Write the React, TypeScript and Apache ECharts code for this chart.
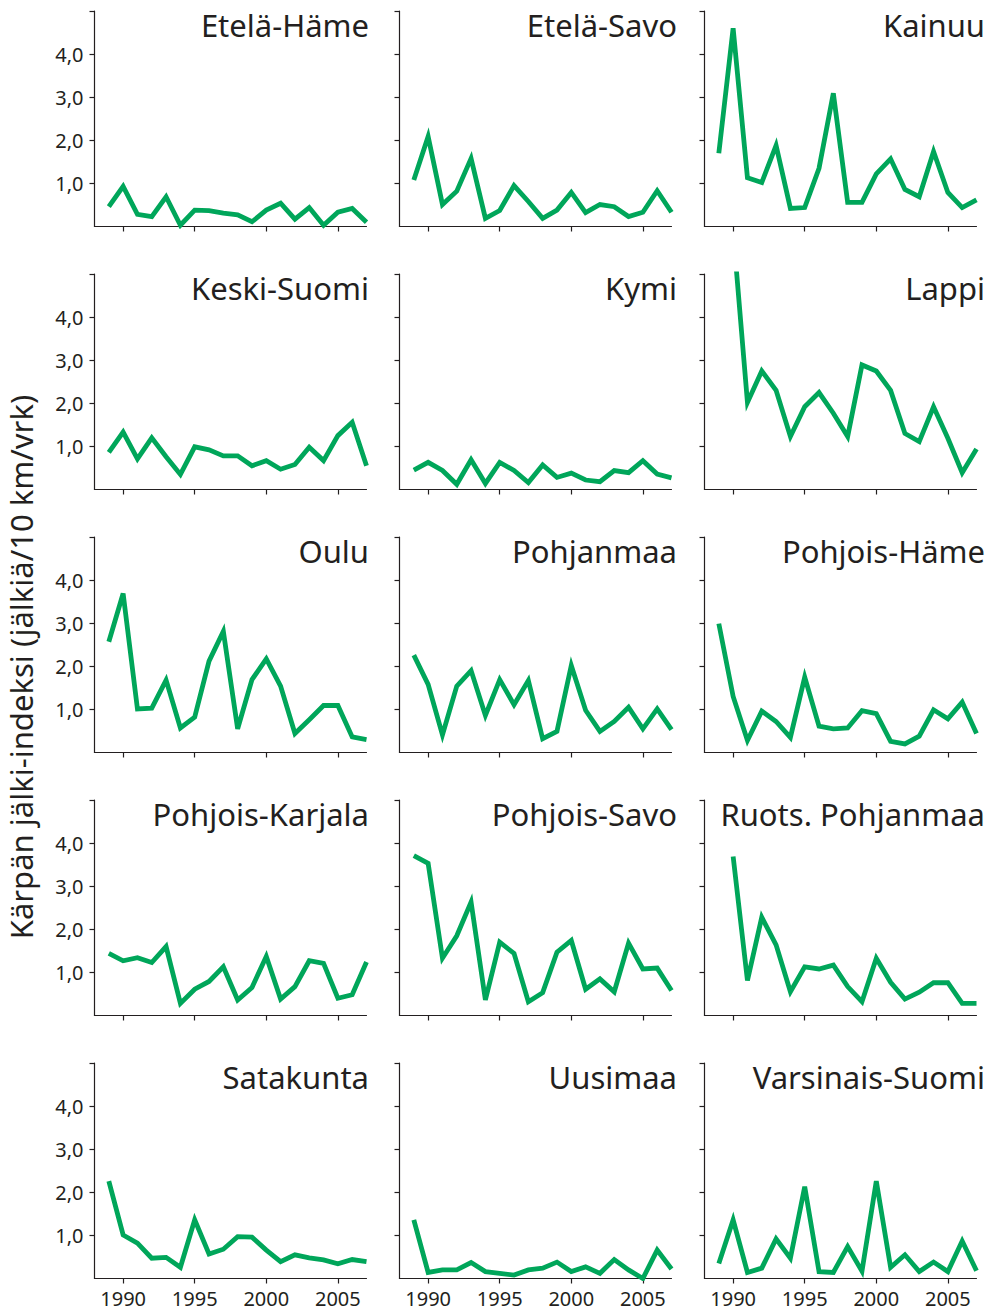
import React, { useEffect, useRef } from "react";
import * as echarts from "echarts";

// Categories (years); 1988 is an empty slot at the start of each axis
const years = [
  "1988", "1989", "1990", "1991", "1992", "1993", "1994", "1995", "1996", "1997",
  "1998", "1999", "2000", "2001", "2002", "2003", "2004", "2005", "2006", "2007",
];

// Values 1989–2007 (null = no data)
const etelaHame = [0.46, 0.93, 0.28, 0.23, 0.69, 0.03, 0.38, 0.37, 0.31, 0.27, 0.11, 0.38, 0.54, 0.17, 0.44, 0.03, 0.33, 0.42, 0.10];
const etelaSavo = [1.08, 2.09, 0.51, 0.82, 1.58, 0.19, 0.37, 0.95, 0.58, 0.19, 0.38, 0.79, 0.32, 0.51, 0.46, 0.23, 0.33, 0.83, 0.33];
const kainuu = [1.70, 4.60, 1.13, 1.02, 1.88, 0.42, 0.44, 1.35, 3.09, 0.56, 0.56, 1.22, 1.57, 0.86, 0.69, 1.74, 0.79, 0.44, 0.62];
const keskiSuomi = [0.86, 1.33, 0.71, 1.20, 0.76, 0.35, 0.99, 0.92, 0.78, 0.78, 0.55, 0.67, 0.47, 0.58, 0.98, 0.67, 1.25, 1.56, 0.55];
const kymi = [0.45, 0.63, 0.44, 0.12, 0.69, 0.14, 0.63, 0.44, 0.16, 0.57, 0.28, 0.38, 0.22, 0.18, 0.44, 0.39, 0.67, 0.36, 0.27];
const lappi = [null, 6.0, 2.02, 2.75, 2.30, 1.23, 1.92, 2.25, 1.77, 1.23, 2.89, 2.75, 2.30, 1.30, 1.11, 1.92, 1.19, 0.39, 0.94];
const oulu = [2.57, 3.69, 1.01, 1.03, 1.68, 0.57, 0.82, 2.12, 2.81, 0.55, 1.69, 2.17, 1.54, 0.44, 0.76, 1.09, 1.09, 0.36, 0.30];
const pohjanmaa = [2.26, 1.58, 0.41, 1.54, 1.90, 0.86, 1.69, 1.11, 1.67, 0.32, 0.49, 2.02, 0.98, 0.49, 0.72, 1.05, 0.55, 1.01, 0.53];
const pohjoisHame = [2.99, 1.30, 0.28, 0.96, 0.72, 0.35, 1.75, 0.61, 0.55, 0.57, 0.97, 0.90, 0.26, 0.20, 0.38, 0.99, 0.78, 1.17, 0.44];
const pohjoisKarjala = [1.44, 1.27, 1.34, 1.23, 1.60, 0.28, 0.61, 0.79, 1.13, 0.36, 0.65, 1.37, 0.38, 0.67, 1.27, 1.21, 0.40, 0.48, 1.24];
const pohjoisSavo = [3.71, 3.53, 1.33, 1.85, 2.63, 0.36, 1.70, 1.44, 0.32, 0.53, 1.47, 1.74, 0.61, 0.85, 0.55, 1.68, 1.08, 1.10, 0.58];
const ruotsPohjanmaa = [null, 3.69, 0.81, 2.28, 1.64, 0.55, 1.13, 1.08, 1.17, 0.67, 0.32, 1.33, 0.77, 0.38, 0.54, 0.76, 0.76, 0.28, 0.28];
const satakunta = [2.26, 1.01, 0.82, 0.47, 0.49, 0.26, 1.36, 0.57, 0.68, 0.97, 0.96, 0.66, 0.39, 0.55, 0.48, 0.43, 0.34, 0.44, 0.39];
const uusimaa = [1.36, 0.14, 0.20, 0.20, 0.37, 0.16, 0.12, 0.08, 0.20, 0.24, 0.38, 0.16, 0.27, 0.12, 0.44, 0.20, 0.0, 0.66, 0.22];
const varsinaisSuomi = [0.35, 1.36, 0.14, 0.24, 0.92, 0.47, 2.13, 0.16, 0.14, 0.74, 0.17, 2.26, 0.26, 0.55, 0.16, 0.38, 0.16, 0.87, 0.18];

const regionNames = [
  "Etelä-Häme", "Etelä-Savo", "Kainuu",
  "Keski-Suomi", "Kymi", "Lappi",
  "Oulu", "Pohjanmaa", "Pohjois-Häme",
  "Pohjois-Karjala", "Pohjois-Savo", "Ruots. Pohjanmaa",
  "Satakunta", "Uusimaa", "Varsinais-Suomi",
];
const regionValues = [
  etelaHame, etelaSavo, kainuu,
  keskiSuomi, kymi, lappi,
  oulu, pohjanmaa, pohjoisHame,
  pohjoisKarjala, pohjoisSavo, ruotsPohjanmaa,
  satakunta, uusimaa, varsinaisSuomi,
];

const yTicks = [1, 2, 3, 4, 5];
const yLabels = [1, 2, 3, 4];
const yAxisTitle = "Kärpän jälki-indeksi (jälkiä/10 km/vrk)";

const FONT = "'Noto Sans', 'Open Sans', sans-serif";
const INK = "#231f20";
const GREEN = "#00a65a";

export default function App() {
  const ref = useRef<HTMLDivElement>(null);

  useEffect(() => {
    if (!ref.current) return;
    const chart = echarts.init(ref.current, null, { renderer: "svg" });

    const gridLeft0 = 94.5;
    const colStep = 305;
    const gridTop0 = 11;
    const rowStep = 263;
    const gridW = 272;
    const gridH = 215.5;

    const grids: any[] = [];
    const xAxes: any[] = [];
    const yAxes: any[] = [];
    const series: any[] = [];
    const graphics: any[] = [];

    regionNames.forEach((name, i) => {
      const row = Math.floor(i / 3);
      const col = i % 3;
      const left = gridLeft0 + col * colStep;
      const top = gridTop0 + row * rowStep;
      grids.push({ left, top, width: gridW, height: gridH, containLabel: false });
      xAxes.push({
        type: "category",
        gridIndex: i,
        data: years,
        boundaryGap: false,
        axisLine: { show: true, lineStyle: { color: INK, width: 1.2 } },
        axisTick: {
          show: true,
          length: 5,
          interval: (_idx: number, v: string) => Number(v) % 5 === 0,
          lineStyle: { color: INK, width: 1.2 },
        },
        axisLabel: {
          show: row === 4,
          interval: (_idx: number, v: string) => Number(v) % 5 === 0,
          fontSize: 20,
          fontFamily: FONT,
          color: INK,
          margin: 10,
        },
        splitLine: { show: false },
      });
      yAxes.push({
        type: "value",
        gridIndex: i,
        min: 0,
        max: 5,
        interval: 1,
        axisLine: { show: true, lineStyle: { color: INK, width: 1.2 } },
        axisTick: {
          show: true,
          length: 5,
          customValues: yTicks,
          lineStyle: { color: INK, width: 1.2 },
        },
        axisLabel: {
          show: col === 0,
          customValues: yLabels,
          formatter: (v: number) => (v <= 0 || v >= 5 ? "" : v.toFixed(1).replace(".", ",")),
          fontSize: 20,
          fontFamily: FONT,
          color: INK,
          margin: 11,
        },
        splitLine: { show: false },
      });
      series.push({
        type: "line",
        name,
        xAxisIndex: i,
        yAxisIndex: i,
        data: [null, ...regionValues[i]],
        showSymbol: false,
        symbol: "none",
        connectNulls: false,
        clip: true,
        lineStyle: { color: GREEN, width: 4.8, join: "miter", cap: "butt" },
        emphasis: { disabled: true },
      });
      graphics.push({
        type: "text",
        x: 369 + col * 308,
        y: top + 13.5,
        style: {
          text: name,
          fontSize: 31,
          fontFamily: FONT,
          fill: INK,
          textAlign: "right",
          textVerticalAlign: "middle",
          verticalAlign: "middle",
        },
      });
    });

    graphics.push({
      type: "text",
      x: 21,
      y: 667,
      rotation: Math.PI / 2,
      style: {
        text: yAxisTitle,
        fontSize: 31,
        fontFamily: FONT,
        fill: INK,
        textAlign: "center",
        textVerticalAlign: "middle",
        verticalAlign: "middle",
      },
    });

    chart.setOption({
      animation: false,
      backgroundColor: "#ffffff",
      grid: grids,
      xAxis: xAxes,
      yAxis: yAxes,
      series,
      graphic: graphics,
      tooltip: { show: false },
    });

    return () => chart.dispose();
  }, []);

  return (
    <div
      ref={ref}
      style={{ position: "absolute", left: 0, top: 0, width: 998, height: 1311 }}
    />
  );
}
